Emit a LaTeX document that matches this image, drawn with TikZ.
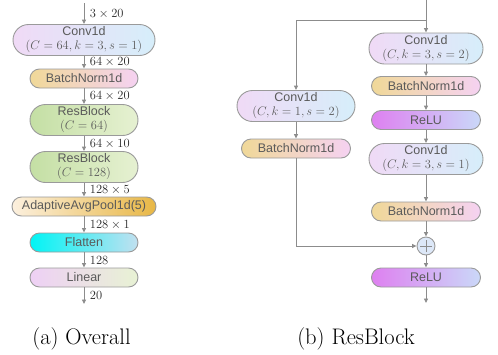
\RequirePackage{fix-cm}
\documentclass[tikz,border=0pt]{standalone}
\usepackage{fontspec}
\setsansfont{Liberation Sans}
\usetikzlibrary{arrows.meta}
\definecolor{linec}{HTML}{8C8C8C}
\definecolor{bordc}{HTML}{9A9A9A}
\definecolor{txtc}{HTML}{5A5A5A}
\definecolor{labc}{HTML}{262626}
\definecolor{convL}{HTML}{F0DAF6}
\definecolor{convR}{HTML}{D6EEFA}
\definecolor{bnL}{HTML}{F0D898}
\definecolor{bnR}{HTML}{F5D2F2}
\definecolor{resL}{HTML}{C4DFA4}
\definecolor{resR}{HTML}{E6F1D2}
\definecolor{poolL}{HTML}{FCF0DE}
\definecolor{poolR}{HTML}{E8B745}
\definecolor{flatL}{HTML}{00F4F4}
\definecolor{flatR}{HTML}{C2E0F0}
\definecolor{linL}{HTML}{EED0F5}
\definecolor{linR}{HTML}{E8F2D4}
\definecolor{reluL}{HTML}{DE80F0}
\definecolor{reluR}{HTML}{CAD8F8}
\definecolor{plusF}{HTML}{DDE8F8}
\begin{document}
\begin{tikzpicture}[x=1pt,y=-1pt,
  box/.style={draw=bordc, line width=0.9pt, inner sep=0pt, text=txtc,
    font=\sffamily\fontsize{12.5}{14}\selectfont, align=center},
  one/.style={box, minimum height=19pt, rounded corners=9.5pt},
  two/.style={box, minimum height=31pt, rounded corners=15.5pt},
  conv/.style={left color=convL, right color=convR},
  bn/.style={left color=bnL, right color=bnR},
  res/.style={left color=resL, right color=resR},
  pool/.style={left color=poolL, right color=poolR},
  flat/.style={left color=flatL, right color=flatR},
  lin/.style={left color=linL, right color=linR},
  relu/.style={left color=reluL, right color=reluR},
  arr/.style={draw=linec, line width=0.9pt, -{Triangle[length=4.5pt,width=4pt]}},
  lab/.style={anchor=west, inner sep=0pt, xshift=5.5pt, text=labc,
    font=\fontsize{12.5}{14}\selectfont},
  captext/.style={inner sep=0pt, anchor=base, font=\fontsize{22.5}{26}\selectfont}
]
\useasboundingbox (0,0) rectangle (498,354);

% ---------- (a) Overall ----------
\coordinate (atop) at (84,3);
\node[two, conv, minimum width=142pt] (aconv) at (84,40) {Conv1d\\$(C=64,k=3,s=1)$};
\node[one, bn, minimum width=108pt] (abn) at (84,78.5) {BatchNorm1d};
\node[two, res, minimum width=108pt] (ares1) at (84,120) {ResBlock\\$(C=64)$};
\node[two, res, minimum width=108pt] (ares2) at (84,167) {ResBlock\\$(C=128)$};
\node[one, pool, minimum width=144pt] (apool) at (84,206.5) {AdaptiveAvgPool1d(5)};
\node[one, flat, minimum width=108pt] (aflat) at (84,242.5) {Flatten};
\node[one, lin, minimum width=108pt] (alin) at (84,277.5) {Linear};
\coordinate (aout) at (84,304);

\draw[arr] (atop) -- node[lab]{$3\times20$} (aconv);
\draw[arr] (aconv) -- node[lab]{$64\times20$} (abn);
\draw[arr] (abn) -- node[lab]{$64\times20$} (ares1);
\draw[arr] (ares1) -- node[lab]{$64\times10$} (ares2);
\draw[arr] (ares2) -- node[lab]{$128\times5$} (apool);
\draw[arr] (apool) -- node[lab]{$128\times1$} (aflat);
\draw[arr] (aflat) -- node[lab]{$128$} (alin);
\draw[arr] (alin) -- node[lab]{$20$} (aout);

\node[captext] (capa) at (81.5,344) {(a) Overall};

% ---------- (b) ResBlock ----------
\coordinate (btop) at (426,0);
\coordinate (bsplit) at (426,20);
\node[two, conv, minimum width=114pt] (rconv1) at (426,48.5) {Conv1d\\$(C,k=3,s=2)$};
\node[one, bn, minimum width=109pt] (rbn1) at (426,86) {BatchNorm1d};
\node[one, relu, minimum width=109pt] (rrelu1) at (426,120) {ReLU};
\node[two, conv, minimum width=114pt] (rconv2) at (426,159) {Conv1d\\$(C,k=3,s=1)$};
\node[one, bn, minimum width=109pt] (rbn2) at (426,211.5) {BatchNorm1d};
\node[circle, draw=bordc, line width=0.9pt, fill=plusF, minimum size=18pt, inner sep=0pt] (plus) at (426,246) {};
\draw[draw=linec, line width=0.8pt] ([yshift=-6pt]plus.center) -- ([yshift=6pt]plus.center)
  ([xshift=-6pt]plus.center) -- ([xshift=6pt]plus.center);
\node[one, relu, minimum width=109pt] (rrelu2) at (426,277.5) {ReLU};
\coordinate (bout) at (426,303);

\node[two, conv, minimum width=118pt] (lconv) at (296,106) {Conv1d\\$(C,k=1,s=2)$};
\node[one, bn, minimum width=109pt] (lbn) at (296,148.5) {BatchNorm1d};

\draw[arr] (btop) -- (rconv1);
\draw[arr] (bsplit) -| (lconv);
\draw[arr] (rconv1) -- (rbn1);
\draw[arr] (rbn1) -- (rrelu1);
\draw[arr] (rrelu1) -- (rconv2);
\draw[arr] (rconv2) -- (rbn2);
\draw[arr] (rbn2) -- (plus);
\draw[arr] (plus) -- (rrelu2);
\draw[arr] (rrelu2) -- (bout);
\draw[arr] (lconv) -- (lbn);
\draw[arr] (lbn) |- (plus);

\node[captext] (capb) at (356,344) {(b) ResBlock};
\end{tikzpicture}
\end{document}
